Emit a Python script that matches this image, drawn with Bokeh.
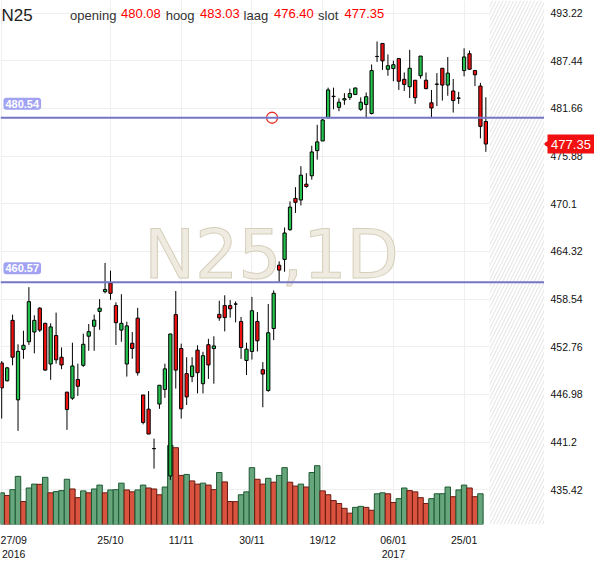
import math
from bokeh.plotting import figure
from bokeh.layouts import row
from bokeh.models import Range1d, FixedTicker, Span, Label, BoxAnnotation
from bokeh.core.properties import value
from bokeh.embed import file_html
from bokeh.resources import INLINE

symbol = "N25"
interval = "1D"

opens = [450.79, 448.63, 455.96, 446.32, 452.43, 453.37, 454.55, 457.44, 455.60, 450.67,
         454.12, 451.49, 447.26, 446.52, 448.79, 450.51, 454.04, 455.25, 457.05, 459.44,
         460.50, 457.76, 454.78, 450.67, 453.18, 456.23, 446.91, 445.19, 440.41, 445.81,
         447.58, 437.08, 456.66, 452.55, 449.50, 449.14, 452.35, 448.28, 453.01, 452.54,
         456.69, 457.75, 457.75, 457.95, 455.83, 451.10, 452.19, 455.83, 449.98, 447.45,
         454.97, 462.65, 463.35, 466.96, 470.75, 470.56, 472.48, 473.50, 476.55, 477.72,
         480.54, 483.15, 481.80, 482.70, 483.01, 483.36, 481.56, 482.15, 481.05, 487.98,
         489.55, 486.42, 486.50, 487.71, 485.20, 484.30, 485.09, 485.63, 485.09, 482.35,
         484.62, 486.54, 484.50, 483.79, 482.93, 486.26, 488.30, 486.26, 484.38, 480.08]
highs = [451.02, 450.32, 456.66, 453.06, 454.70, 459.99, 456.58, 457.56, 455.68, 455.60,
         456.90, 452.67, 447.26, 453.25, 450.71, 454.35, 455.52, 456.66, 458.54, 462.93,
         461.99, 458.15, 459.13, 455.80, 454.55, 457.48, 446.91, 447.38, 441.62, 448.09,
         450.71, 454.31, 459.52, 453.14, 451.49, 451.49, 452.94, 452.15, 453.72, 454.03,
         458.34, 459.00, 458.42, 458.26, 456.38, 453.25, 458.81, 456.97, 450.90, 457.95,
         459.59, 463.12, 467.23, 470.40, 472.12, 474.67, 473.81, 477.14, 479.68, 480.39,
         484.19, 484.19, 482.89, 483.52, 484.07, 484.19, 483.01, 483.60, 487.00, 489.79,
         489.55, 488.22, 487.46, 487.71, 486.03, 488.77, 485.09, 488.02, 486.03, 483.91,
         485.95, 486.54, 487.91, 485.24, 483.68, 488.96, 488.69, 486.26, 484.77, 483.03]
lows = [444.05, 448.55, 450.51, 442.56, 451.30, 452.98, 451.96, 454.55, 449.85, 448.75,
        450.71, 450.04, 442.68, 446.32, 446.79, 450.32, 452.27, 452.27, 454.82, 459.24,
        458.46, 452.98, 453.37, 449.14, 451.30, 449.26, 443.35, 442.17, 437.98, 445.23,
        446.56, 436.61, 447.69, 444.05, 445.70, 448.47, 447.10, 447.10, 448.86, 448.28,
        455.91, 454.62, 456.30, 455.72, 451.29, 449.33, 451.21, 452.19, 445.42, 447.30,
        453.56, 460.50, 461.86, 466.84, 468.99, 469.89, 472.05, 473.03, 475.45, 477.72,
        480.47, 481.56, 481.33, 482.11, 482.70, 483.29, 481.37, 480.47, 480.94, 487.32,
        486.34, 485.63, 484.97, 483.91, 483.79, 482.93, 482.23, 485.28, 483.99, 480.47,
        481.95, 482.62, 483.21, 481.17, 482.23, 485.56, 486.34, 484.38, 478.04, 476.40]
closes = [447.77, 450.20, 451.49, 452.20, 452.94, 458.23, 455.96, 454.78, 449.93, 455.17,
          451.18, 450.55, 445.15, 450.43, 447.97, 453.06, 454.59, 455.99, 457.44, 459.71,
          459.24, 455.68, 455.60, 455.29, 452.55, 449.61, 443.58, 442.17, 440.40, 448.09,
          450.08, 454.31, 449.93, 445.23, 446.68, 450.43, 449.61, 451.68, 450.55, 452.86,
          456.26, 456.30, 457.36, 457.93, 452.66, 452.47, 457.13, 453.48, 449.45, 454.46,
          459.24, 462.06, 466.56, 469.70, 470.28, 473.57, 472.20, 476.39, 477.61, 480.27,
          483.91, 483.10, 482.42, 482.85, 483.48, 484.15, 482.42, 483.09, 486.26, 487.96,
          487.44, 486.85, 486.97, 484.97, 484.58, 486.54, 482.97, 488.02, 484.07, 481.72,
          484.60, 484.50, 485.95, 482.62, 482.91, 487.91, 486.42, 485.75, 479.49, 477.35]
volumes = [32.7, 30.0, 36.0, 49.7, 23.7, 37.7, 41.7, 41.5, 48.7, 32.7,
           34.0, 35.0, 46.7, 36.7, 27.7, 34.7, 32.7, 36.7, 40.7, 32.7,
           35.7, 36.0, 42.7, 35.7, 33.7, 35.7, 40.7, 37.7, 36.7, 30.7,
           38.7, 81.7, 79.3, 50.7, 51.7, 45.0, 41.7, 42.7, 40.7, 36.0,
           53.7, 44.0, 23.7, 23.6, 30.7, 33.7, 58.7, 46.7, 41.7, 47.7,
           43.7, 50.7, 58.7, 43.7, 39.7, 41.7, 38.7, 53.7, 60.7, 34.7,
           30.7, 24.7, 21.7, 16.7, 11.7, 17.7, 18.7, 17.7, 14.7, 31.7,
           32.7, 31.7, 22.7, 26.7, 37.7, 35.0, 33.7, 27.7, 21.7, 26.7,
           31.7, 31.8, 38.7, 28.7, 35.7, 40.7, 37.7, 28.7, 31.7]

tick_index = [0, 20, 33, 46, 59, 72, 85]
tick_labels = ["27/09\n2016", "25/10", "11/11", "30/11", "19/12", "06/01\n2017", "25/01"]
y_ticks = [435.42, 441.2, 446.98, 452.76, 458.54, 464.32, 470.1, 475.88, 481.66, 487.44, 493.22]
levels = [480.54, 460.57]
alert_x = [49.7]
alert_y = [480.54]

# ---------------- layout ----------------
FW, FH = 544, 524          # main frame size
SW = 50                    # price-axis strip width
BOTTOM = 28
sx, sy = FW / 555.0, FH / 541.0
FONT = "Liberation Sans"
X0, X1 = -0.22, 99.78

p = figure(frame_width=FW, frame_height=FH,
           x_range=Range1d(X0, X1), y_range=Range1d(431.2, 494.76),
           y_axis_location=None, output_backend="svg", toolbar_location=None,
           min_border_left=0, min_border_top=0, min_border_right=0, min_border_bottom=BOTTOM,
           background_fill_color="white", border_fill_color="white")
p.outline_line_color = None
p.extra_y_ranges = {"vol": Range1d(0, 541)}

# x axis (first label clamped at the left edge like the original)
first_pos = round(X0 + 13.2 / (FW / (X1 - X0)), 2)
axis_ticks = [first_pos] + tick_index[1:]
xa = p.xaxis[0]
xa.ticker = FixedTicker(ticks=axis_ticks)
xa.major_label_overrides = {t: l for t, l in zip(axis_ticks, tick_labels)}
xa.axis_line_color = None
xa.major_tick_line_color = None
xa.minor_tick_line_color = None
xa.major_label_text_font = FONT
xa.major_label_text_font_size = "10.5px"
xa.major_label_text_color = "#111111"
xa.major_label_standoff = 3
p.xgrid.ticker = FixedTicker(ticks=tick_index)
p.ygrid.ticker = FixedTicker(ticks=y_ticks)
p.xgrid.grid_line_color = "#efefef"
p.ygrid.grid_line_color = "#efefef"

# future hatched zone
p.add_layout(BoxAnnotation(left=len(opens) - 0.3, fill_color="white", fill_alpha=1.0,
                           hatch_pattern="/", hatch_color="#e2e2e2", hatch_scale=7,
                           hatch_weight=1, line_color=None, level="underlay"))

# watermark
wm = Label(x=276.5 * sx, y=FH - 262 * sy, x_units="screen", y_units="screen",
           text=f"{symbol},{interval}", text_align="center", text_baseline="middle",
           text_font="DejaVu Sans", text_font_size="68px", text_color="#efebe1",
           level="underlay")
try:
    wm.text_outline_color = "#d6cfbb"
except Exception:
    pass
p.add_layout(wm)

# volume
vfill, vline = [], []
for i, v in enumerate(volumes):
    up = i == 0 or v > volumes[i - 1]
    vfill.append("#67a67c" if up else "#d9533f")
    vline.append("#1d5a33" if up else "#6a1a12")
p.vbar(x=list(range(len(volumes))), top=volumes, bottom=0, width=1.0, y_range_name="vol",
       fill_color=vfill, line_color=vline, line_width=1)

# candles
idx = list(range(len(opens)))
body_top = [max(o, c) for o, c in zip(opens, closes)]
body_bot = [min(o, c) for o, c in zip(opens, closes)]
ccol = ["#22c24c" if c >= o else "#f01010" for o, c in zip(opens, closes)]
p.segment(x0=idx, y0=lows, x1=idx, y1=highs, line_color="black", line_width=1)
p.vbar(x=idx, top=body_top, bottom=body_bot, width=0.6, fill_color=ccol,
       line_color="black", line_width=1)

# level lines
for lv in levels:
    p.add_layout(Span(location=lv, dimension="width", line_color="#7676c6", line_width=2))
    p.add_layout(Label(x=3 * sx, x_units="screen", y=lv, y_units="data", y_offset=8,
                       text=f"{lv:.2f}", text_color="white", text_font=FONT,
                       text_font_style="bold", text_font_size="11px",
                       text_baseline="bottom", background_fill_color="#a1a2f2",
                       border_radius=3, padding=2))
p.scatter(alert_x, alert_y, marker="circle", size=11, fill_color=None,
          line_color="#e8302a", line_width=1.3)

# header
def hlabel(txt, xref, yref, color, size):
    p.add_layout(Label(x=xref * sx, y=FH - yref * sy, x_units="screen", y_units="screen",
                       text=txt, text_color=color, text_font=FONT, text_font_size=size,
                       text_baseline="alphabetic", text_align="left"))

hlabel(symbol, 1, 15.7, "#222222", "17px")
header = [("opening", opens[-1], 71, 123), ("hoog", highs[-1], 168.5, 203.5),
          ("laag", lows[-1], 248, 279), ("slot", closes[-1], 324, 351)]
for name, val, xw, xv in header:
    hlabel(name, xw, 15, "#333333", "13px")
    hlabel(f"{val:.2f}", xv, 13, "#ff0000", "13px")

# ---------------- price scale strip (right) ----------------
q = figure(frame_width=SW, frame_height=FH, x_range=Range1d(0, SW), y_range=p.y_range,
           x_axis_location=None, y_axis_location=None, output_backend="svg",
           toolbar_location=None, min_border_left=0, min_border_top=0, min_border_right=0,
           min_border_bottom=BOTTOM, background_fill_color="white", border_fill_color="white")
q.outline_line_color = None
q.xgrid.visible = False
q.ygrid.visible = False
q.text(x=[6] * len(y_ticks), y=y_ticks, text=[str(t) for t in y_ticks],
       text_font=value(FONT), text_font_size="10.5px", text_color="#111111",
       text_baseline="middle", text_align="left")
# last price tag
q.rect(x=[SW / 2 + 1.5], y=[closes[-1]], width=SW - 3, height=19, height_units="screen",
       fill_color="#f01010", line_color=None)
q.scatter(x=[2.2], y=[closes[-1]], marker="triangle", angle=math.pi / 2, size=7,
          fill_color="#f01010", line_color=None)
q.text(x=[SW / 2 + 1.5], y=[closes[-1]], text=[f"{closes[-1]:.2f}"],
       text_font=value(FONT), text_font_size="13px", text_color="white",
       text_baseline="middle", text_align="center")

layout = row(p, q)
open("out.html", "w").write(file_html(layout, INLINE))
